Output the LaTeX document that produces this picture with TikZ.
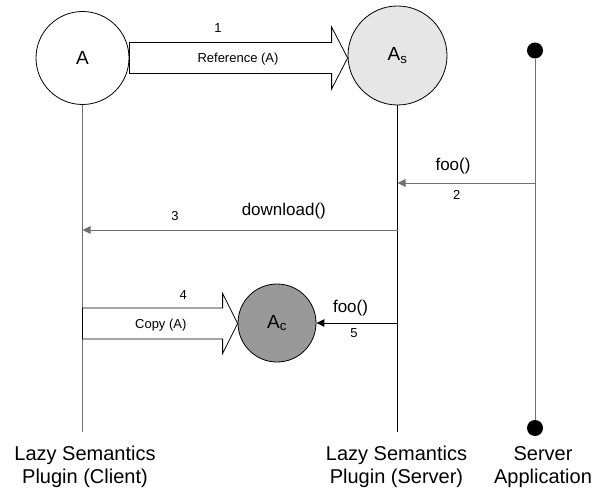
\documentclass[tikz,border=0pt]{standalone}
\usepackage{fontspec}
\setmainfont{Liberation Sans}
\usetikzlibrary{arrows.meta,calc}
\definecolor{lightfill}{HTML}{E6E6E6}
\definecolor{darkfill}{HTML}{999999}
\definecolor{linegray}{HTML}{707070}
\begin{document}
\begin{tikzpicture}[x=1pt,y=-1pt,
 obj/.style={circle,draw=black,line width=0.8pt,inner sep=0pt,font=\fontsize{19}{22}\selectfont},
 life/.style={line width=1pt},
 msg/.style={line width=1pt,-{Triangle[length=8pt,width=7.5pt]}},
 small/.style={font=\fontsize{13}{15}\selectfont,inner sep=0pt},
 call/.style={font=\fontsize{17}{20}\selectfont,inner sep=0pt},
 caption/.style={font=\fontsize{20}{23}\selectfont,align=center,inner sep=0pt},
 bigarrow/.style={draw=black,fill=white,line width=0.8pt,line join=miter},
 dot/.style={circle,fill=black,inner sep=0pt,minimum size=16pt}]
\useasboundingbox (0,0) rectangle (594,492);
% objects
\node[obj,minimum size=93pt] (A) at (82.5,58) {A};
\node[obj,fill=lightfill,minimum size=99pt] (As) at (397.5,55.5) {A\textsubscript{s}};
\node[obj,fill=darkfill,minimum size=78pt] (Ac) at (277,323) {A\textsubscript{c}};
\node[dot] (d1) at (535,50.5) {};
\node[dot] (d2) at (535,428) {};
% lifelines
\coordinate (cEnd) at (82.5,432);
\coordinate (sEnd) at (397.5,432);
\draw[life,linegray] (A.south) -- (cEnd);
\draw[life,black] (As.south) -- (sEnd);
\draw[life,linegray] (d1) -- (d2);
% messages
\coordinate (m2s) at (535,183);
\coordinate (m2e) at (397.5,183);
\draw[msg,linegray] (m2s) -- (m2e);
\coordinate (m3s) at (397.5,230);
\coordinate (m3e) at (82.5,230);
\draw[msg,linegray] (m3s) -- (m3e);
\coordinate (m5s) at (397.5,323);
\draw[msg,black] (m5s) -- (Ac.east);
% big arrow 1
\path (A.east) coordinate (r0) (As.west |- A.east) coordinate (r1);
\draw[bigarrow] ($(r0)+(0,-15.5)$) -- ($(r1)+(-16,-15.5)$) -- ($(r1)+(-16,-31)$) -- (r1)
  -- ($(r1)+(-16,31)$) -- ($(r1)+(-16,15.5)$) -- ($(r0)+(0,15.5)$) -- cycle;
% big arrow 4
\coordinate (q0) at (82.5,323.5);
\path (Ac.west |- q0) coordinate (q1);
\draw[bigarrow] ($(q0)+(0,-15.5)$) -- ($(q1)+(-15,-15.5)$) -- ($(q1)+(-15,-30)$) -- (q1)
  -- ($(q1)+(-15,30)$) -- ($(q1)+(-15,15.5)$) -- ($(q0)+(0,15.5)$) -- cycle;
% labels
\node[small] (n1) at (218,28.5) {1};
\node[small] (t1) at (238,59) {Reference (A)};
\node[call] (f2) at (453,166) {foo()};
\node[small] (n2) at (456.7,194.5) {2};
\node[call] (dl) at (283.8,211) {download()};
\node[small] (n3) at (175,215.7) {3};
\node[small] (n4) at (183.3,295.5) {4};
\node[small] (t4) at (160.8,325) {Copy (A)};
\node[call] (f5) at (350.5,308) {foo()};
\node[small] (n5) at (354,333) {5};
% captions
\node[caption] (cc) at (85,467) {Lazy Semantics\\Plugin (Client)};
\node[caption] (sc) at (396.5,467) {Lazy Semantics\\Plugin (Server)};
\node[caption] (ac) at (543,467) {Server\\Application};
\end{tikzpicture}
\end{document}
